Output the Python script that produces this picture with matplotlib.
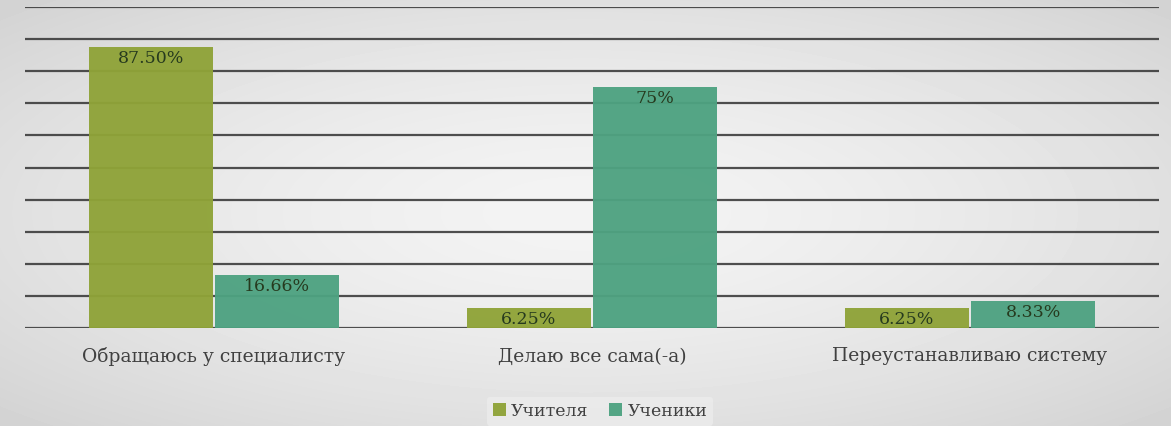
import numpy as np
import matplotlib.pyplot as plt

categories = ['Обращаюсь у специалисту', 'Делаю все сама(-а)', 'Переустанавливаю систему']
teachers = [87.5, 6.25, 6.25]
students = [16.66, 75, 8.33]
teacher_labels = ['87.50%', '6.25%', '6.25%']
student_labels = ['16.66%', '75%', '8.33%']
series_names = ['Учителя', 'Ученики']

olive = '#8fa338'
teal = '#4ea281'
W, H = 1171, 426

fig = plt.figure(figsize=(W / 100, H / 100), dpi=100)

# radial grey background
bg = fig.add_axes([0, 0, 1, 1], zorder=-10)
yy, xx = np.mgrid[0:H, 0:W]
r = np.sqrt(((xx - W / 2) / (W / 2)) ** 2 + ((yy - H / 2) / (H / 2)) ** 2)
shade = 0.955 - 0.13 * np.clip(r / 1.4, 0, 1) ** 1.5
bg.imshow(shade, cmap='gray', vmin=0, vmax=1, aspect='auto', extent=[0, 1, 0, 1])
bg.axis('off')

ax = fig.add_axes([25 / W, 1 - 328 / H, (1159 - 25) / W, (328 - 7) / H])
ax.patch.set_alpha(0)
ax.set_xlim(-0.5, 2.5)
ax.set_ylim(0, 100)

for v in np.arange(0, 101, 10):
    ax.axhline(v, color='#3c3c3c', lw=1.6, zorder=1, alpha=0.9)

x = np.arange(len(categories))
bw = 0.328
b1 = ax.bar(x - bw / 2 - 0.003, teachers, bw, color=olive, zorder=2, alpha=0.96, label=series_names[0])
b2 = ax.bar(x + bw / 2 + 0.003, students, bw, color=teal, zorder=2, alpha=0.96, label=series_names[1])

font = 'DejaVu Serif'
for bars, labels in ((b1, teacher_labels), (b2, student_labels)):
    for rect, lab in zip(bars, labels):
        h = rect.get_height()
        ax.text(rect.get_x() + rect.get_width() / 2, h - 1.0, lab, ha='center', va='top',
                fontsize=12.5, family=font, color='#263a1e', zorder=3)

for s in ax.spines.values():
    s.set_visible(False)
ax.set_yticks([])
ax.set_xticks(x)
ax.set_xticklabels(categories, family=font, fontsize=13.5, color='#404040')
ax.tick_params(axis='x', length=0, pad=14)

leg = ax.legend(loc='center', bbox_to_anchor=(0.507, -0.259), ncol=2, frameon=True,
                prop={'family': font, 'size': 12.5}, handlelength=0.75, handleheight=0.75,
                handletextpad=0.3, columnspacing=1.2, borderpad=0.35)
leg.get_frame().set_facecolor('#ececec')
leg.get_frame().set_edgecolor('none')
leg.get_frame().set_alpha(0.8)
for t in leg.get_texts():
    t.set_color('#404040')

fig.savefig('out.png', dpi=100)
